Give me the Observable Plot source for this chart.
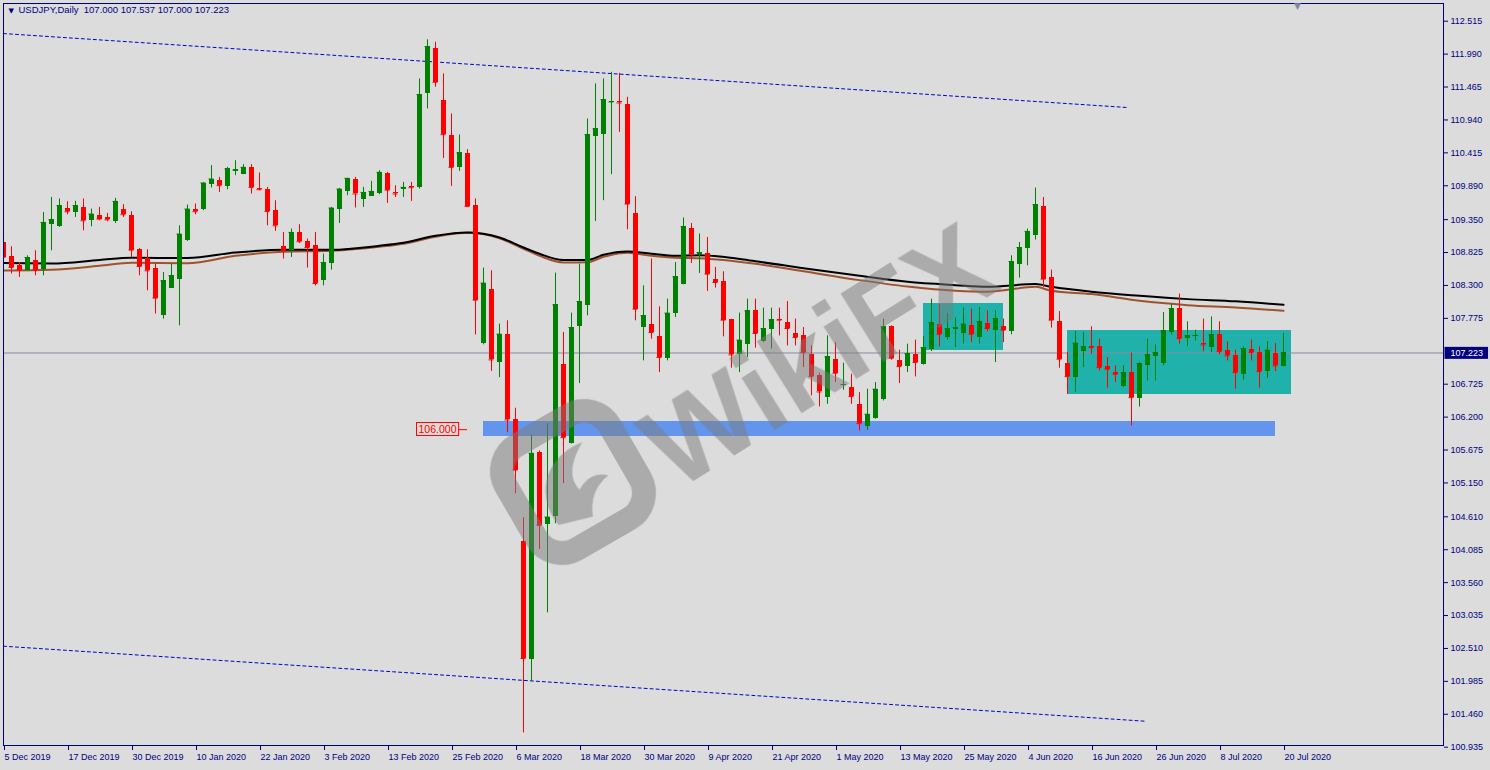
<!DOCTYPE html>
<html><head><meta charset="utf-8">
<script src="https://cdn.jsdelivr.net/npm/d3@7"></script>
<script src="https://cdn.jsdelivr.net/npm/@observablehq/plot@0.6"></script>
<style>
html,body{margin:0;padding:0;background:#dcdcdc;}
#wrap{position:relative;width:1490px;height:770px;overflow:hidden;}
#wm{position:absolute;left:0;top:0;pointer-events:none;}
</style></head><body><div id="wrap"></div>
<script>
// ---- data ----
const symbolTitle = "USDJPY,Daily";
const open = [108.99,108.757,108.614,108.545,108.694,108.561,109.268,109.236,109.535,109.465,
109.545,109.332,109.412,109.385,109.316,109.519,109.412,108.869,108.737,108.577,
107.816,108.258,108.401,109.024,109.508,109.508,109.918,109.971,109.875,110.115,
110.067,110.184,109.854,109.838,109.492,108.917,108.864,109.146,108.997,108.933,
108.374,108.65,109.519,109.8,109.998,109.679,109.72,109.768,110.088,109.779,
109.838,109.875,109.864,111.355,112.074,111.248,110.689,110.184,110.397,109.572,
107.38,108.231,107.07,107.512,106.155,104.212,102.334,105.633,104.49,104.611,
107.033,105.777,107.645,107.975,110.673,110.705,111.211,111.227,111.185,109.449,
107.629,107.672,107.48,107.14,107.852,108.322,109.209,108.8,108.81,108.39,
108.358,107.752,107.193,107.352,107.895,107.405,107.592,107.763,107.709,107.539,
107.507,107.193,106.857,106.511,107.124,106.698,106.67,106.405,106.043,106.182,
106.479,107.64,107.097,107.006,107.193,107.033,107.284,107.672,107.469,107.592,
107.533,107.656,107.469,107.699,107.576,107.64,107.565,108.641,108.89,109.104,
109.556,108.427,107.725,107.054,106.83,107.245,107.325,107.325,107.001,106.91,
106.687,106.91,106.495,107.017,107.161,107.054,107.549,107.932,107.459,107.485,
107.373,107.309,107.512,107.257,107.177,106.873,107.273,107.229,106.926,107.214,
107.0];
const high = [109.02,108.917,108.667,108.773,108.853,109.465,109.704,109.679,109.636,109.641,
109.679,109.519,109.545,109.449,109.689,109.588,109.476,108.89,108.869,108.641,
108.507,108.641,109.252,109.583,109.599,109.94,110.211,110.024,110.184,110.29,
110.227,110.227,110.094,109.864,109.652,109.146,109.2,109.268,109.04,109.146,
108.8,109.545,109.848,110.008,110.024,109.864,109.96,110.131,110.104,109.891,
109.944,109.944,111.595,112.218,112.179,111.675,111.036,110.701,110.466,109.679,
108.577,108.534,107.683,107.736,106.342,104.595,105.91,105.66,106.096,108.497,
107.549,107.859,108.641,110.956,111.515,111.595,111.7,111.684,111.301,109.716,
108.294,108.721,107.959,108.082,108.666,109.375,109.289,109.12,109.066,108.587,
108.518,107.76,107.859,108.082,108.082,107.938,107.938,107.938,108.044,107.763,
107.629,107.336,106.9,107.496,107.389,107.06,106.884,106.591,106.645,106.751,
107.763,107.656,107.268,107.364,107.428,107.485,108.082,107.991,107.852,107.779,
107.938,107.922,107.948,107.895,107.895,107.763,108.773,108.986,109.2,109.854,
109.704,108.545,107.884,107.229,107.565,107.549,107.64,107.443,107.15,107.017,
107.017,107.22,107.07,107.443,107.352,107.868,108.002,108.162,107.72,107.587,
107.763,107.799,107.72,107.401,107.268,107.32,107.428,107.32,107.405,107.373,
107.537];
const low = [108.70,108.481,108.427,108.534,108.454,108.454,108.853,109.225,109.428,109.385,
109.173,109.236,109.332,109.316,109.289,109.385,108.746,108.454,108.215,107.843,
107.763,108.258,107.656,109.002,109.428,109.492,109.854,109.784,109.827,110.051,
110.067,109.759,109.811,109.252,109.162,108.721,108.746,108.97,108.577,108.294,
108.294,108.545,109.289,109.732,109.535,109.545,109.72,109.747,109.608,109.704,
109.704,109.641,109.838,111.116,111.461,110.327,109.88,110.12,109.561,107.512,
107.353,106.929,106.83,105.952,104.978,101.162,101.987,104.09,103.078,104.499,
105.138,105.77,106.735,107.816,109.321,109.652,110.067,110.742,109.189,107.736,
107.097,107.443,106.91,107.097,107.788,108.31,108.65,108.491,108.204,108.258,
107.48,106.98,106.91,107.15,107.3,107.389,107.284,107.496,107.336,107.336,
106.99,106.538,106.362,106.405,106.751,106.629,106.405,105.979,105.99,106.166,
106.458,107.108,106.735,106.91,106.841,107.03,107.245,107.32,107.428,107.309,
107.364,107.389,107.364,107.565,107.07,107.389,107.512,108.417,108.614,109.024,
108.268,107.619,106.98,106.565,106.591,106.99,107.204,106.937,106.661,106.751,
106.67,106.059,106.362,106.778,106.778,107.017,107.512,107.364,107.325,107.416,
107.245,107.229,107.193,107.097,106.645,106.789,107.097,106.661,106.821,106.926,
107.0];
const close = [108.75,108.587,108.545,108.746,108.545,109.305,109.348,109.572,109.476,109.572,
109.332,109.439,109.359,109.348,109.641,109.428,108.864,108.603,108.534,108.098,
108.374,108.454,109.12,109.519,109.476,109.934,109.998,109.891,110.158,110.142,
110.184,109.864,109.827,109.481,109.252,108.864,109.146,108.997,108.906,108.331,
108.666,109.535,109.838,110.008,109.759,109.784,109.8,110.104,109.822,109.759,
109.864,109.859,111.344,112.11,111.541,110.705,110.184,110.413,109.561,108.066,
108.338,107.113,107.523,106.155,105.356,102.35,105.623,104.474,104.606,107.991,
105.872,107.629,108.044,110.705,110.796,111.264,111.227,111.211,109.599,107.922,
107.816,107.549,107.15,107.859,108.438,109.236,108.8,108.826,108.481,108.347,
107.747,107.193,107.428,107.895,107.533,107.613,107.752,107.747,107.613,107.469,
107.229,106.846,106.602,107.161,106.9,106.719,106.527,106.096,106.246,106.645,
107.64,107.14,107.006,107.214,107.07,107.309,107.709,107.523,107.613,107.629,
107.683,107.523,107.72,107.613,107.772,107.587,108.682,108.906,109.162,109.588,
108.401,107.747,107.124,106.846,107.38,107.32,107.309,106.99,106.964,106.884,
106.91,106.511,107.054,107.193,107.229,107.576,107.932,107.453,107.496,107.501,
107.352,107.512,107.245,107.177,106.91,107.293,107.229,106.926,107.268,107.017,
107.223];

// moving averages, sampled at bar indices
const maIndex = [0,6,12,16,23,29,35,41,47,50,54,58,62,65,67,70,73,75,78,81,84,87,94,100,107,113,119,123,129,131,136,142,148,154,160];
const maBlack = [108.657,108.651,108.705,108.742,108.737,108.826,108.869,108.869,108.933,108.981,109.093,109.146,109.066,108.906,108.805,108.705,108.705,108.789,108.842,108.805,108.773,108.781,108.686,108.574,108.454,108.358,108.305,108.278,108.322,108.278,108.199,108.135,108.082,108.047,107.991];
const maBrown = [108.539,108.550,108.614,108.662,108.654,108.773,108.837,108.853,108.917,108.965,109.077,109.141,109.053,108.885,108.773,108.666,108.670,108.757,108.821,108.773,108.742,108.734,108.646,108.526,108.385,108.283,108.215,108.199,108.278,108.215,108.162,108.055,107.986,107.948,107.895];

// trend channel lines (bar index, price)
const upperLineIndex = [0, 140.6];
const upperLinePrice = [112.318, 111.137];
const lowerLineIndex = [0, 142.75];
const lowerLinePrice = [102.546, 101.349];

// zones
const zoneKind  = ["support", "range", "range"];
const zoneStart = [60, 115, 133];
const zoneEnd   = [159, 125, 161];
const zoneHigh  = [106.123, 108.007, 107.576];
const zoneLow   = [105.884, 107.257, 106.565];

const levelPrice = 106.000;
const levelLabelIndex = 58;
const shiftIndex = 161.75;

// axes
const dateTickIndex = [0,8,16,24,32,40,48,56,64,72,80,88,96,104,112,120,128,136,144,152,160];
const dateTickLabels = ["5 Dec 2019","17 Dec 2019","30 Dec 2019","10 Jan 2020","22 Jan 2020","3 Feb 2020","13 Feb 2020","25 Feb 2020","6 Mar 2020","18 Mar 2020","30 Mar 2020","9 Apr 2020","21 Apr 2020","1 May 2020","13 May 2020","25 May 2020","4 Jun 2020","16 Jun 2020","26 Jun 2020","8 Jul 2020","20 Jul 2020"];
const priceTicks = [112.515,111.990,111.465,110.940,110.415,109.890,109.350,108.825,108.300,107.775,106.725,106.200,105.675,105.150,104.610,104.085,103.560,103.035,102.510,101.985,101.460,100.935];

// ---- build ----
const n = open.length;
const bars = d3.range(n).map(i => ({i, o: open[i], h: high[i], l: low[i], c: close[i]}));
const up = bars.filter(d => d.c >= d.o);
const dn = bars.filter(d => d.c < d.o);
const half = 0.3125;
const GREEN = "#008000", RED = "#ff0000", NAVY = "#000080";
const blackLine = maIndex.map((i, k) => ({i, v: maBlack[k]}));
const brownLine = maIndex.map((i, k) => ({i, v: maBrown[k]}));
const upperLine = upperLineIndex.map((i, k) => ({i, v: upperLinePrice[k]}));
const lowerLine = lowerLineIndex.map((i, k) => ({i, v: lowerLinePrice[k]}));
const zones = zoneKind.map((k, j) => ({k, x1: zoneStart[j], x2: zoneEnd[j], y1: zoneLow[j], y2: zoneHigh[j]}));
const last = bars[n - 1];
const labelOf = new Map(dateTickIndex.map((t, k) => [t, dateTickLabels[k]]));
const header = `${symbolTitle}\u00a0\u00a0${last.o.toFixed(3)} ${last.h.toFixed(3)} ${last.l.toFixed(3)} ${last.c.toFixed(3)}`;

function candleMarks(data, color) {
  return [
    Plot.ruleX(data, {x: "i", y1: "l", y2: "h", stroke: color, strokeWidth: 1, clip: true}),
    Plot.rect(data, {x1: d => d.i - half, x2: d => d.i + half, y1: "o", y2: "c", fill: color, clip: true, shapeRendering: "crispEdges"}),
    Plot.ruleY(data, {y: "c", x1: d => d.i - half, x2: d => d.i + half, stroke: color, strokeWidth: 1, clip: true})
  ];
}

const chart = Plot.plot({
  width: 1490, height: 770,
  marginLeft: 3, marginRight: 47, marginTop: 3, marginBottom: 25,
  style: {background: "#dcdcdc", color: NAVY, fontFamily: "'Liberation Sans', Arial, sans-serif", fontSize: "9px"},
  x: {type: "linear", domain: [0, 180]},
  y: {type: "linear", domain: [100.935, 112.515], range: [746.7, 20.7]},
  marks: [
    Plot.rect(zones.filter(z => z.k === "support"), {x1: "x1", x2: "x2", y1: "y1", y2: "y2", fill: "#6495ed", shapeRendering: "crispEdges"}),
    Plot.rect(zones.filter(z => z.k === "range"), {x1: "x1", x2: "x2", y1: "y1", y2: "y2", fill: "#20b2aa", shapeRendering: "crispEdges"}),
    Plot.ruleY([last.c], {stroke: "#8a8aa4", strokeWidth: 1}),
    Plot.line(upperLine, {x: "i", y: "v", stroke: "#0000cc", strokeWidth: 1, strokeDasharray: "3,3", clip: true}),
    Plot.line(lowerLine, {x: "i", y: "v", stroke: "#0000cc", strokeWidth: 1, strokeDasharray: "3,3", clip: true}),
    Plot.line(brownLine, {x: "i", y: "v", stroke: "#a0522d", strokeWidth: 2, curve: "monotone-x", clip: true}),
    Plot.line(blackLine, {x: "i", y: "v", stroke: "#000000", strokeWidth: 2, curve: "monotone-x", clip: true}),
    ...candleMarks(up, GREEN),
    ...candleMarks(dn, RED),
    // 106.000 level label
    Plot.ruleY([levelPrice], {x1: levelLabelIndex - 1, x2: levelLabelIndex, stroke: RED, strokeWidth: 1}),
    Plot.text([levelPrice], {x: levelLabelIndex - 1, y: d => d, text: d => d.toFixed(3), textAnchor: "end", dx: -3, fill: RED, fontSize: 10.5}),
    Plot.frame({stroke: NAVY, strokeWidth: 1}),
    Plot.axisY({ticks: priceTicks, anchor: "right", tickSize: 4, tickPadding: 3, tickFormat: d => d.toFixed(3), fontSize: 9}),
    Plot.axisX({ticks: dateTickIndex, anchor: "bottom", tickSize: 5, tickPadding: 3, tickFormat: t => labelOf.get(t), textAnchor: "start", dx: 1, fontSize: 9}),
    // current price label on the axis
    Plot.text([last.c], {y: d => d, frameAnchor: "right", dx: 7, textAnchor: "start", text: d => d.toFixed(3), fill: "white", fontSize: 9}),
    // header
    Plot.text(["\u25bc"], {frameAnchor: "top-left", dx: 5, dy: 5, text: d => d, lineAnchor: "top", fontSize: 7, fill: NAVY, fontFamily: "DejaVu Sans"}),
    Plot.text([header], {frameAnchor: "top-left", dx: 15, dy: 3, text: d => d, lineAnchor: "top", textAnchor: "start", fontSize: 9.5, fill: NAVY}),
    // chart shift marker
    Plot.text(["\u25bc"], {x: shiftIndex, frameAnchor: "top", dy: -1, text: d => d, lineAnchor: "top", fontSize: 9, fill: "#7d8aa8", fontFamily: "DejaVu Sans"})
  ]
});

const wrap = document.getElementById("wrap");
wrap.appendChild(chart);

function boxBehind(str, fill, stroke, padX0, padX1, padY) {
  const t = [...chart.querySelectorAll("text")].find(e => e.textContent === str);
  if (!t) return;
  const b = t.getBBox();
  const r = document.createElementNS("http://www.w3.org/2000/svg", "rect");
  r.setAttribute("x", b.x - padX0);
  r.setAttribute("y", b.y - padY);
  r.setAttribute("width", b.width + padX0 + padX1);
  r.setAttribute("height", b.height + 2 * padY);
  r.setAttribute("fill", fill);
  r.setAttribute("stroke", stroke);
  r.setAttribute("stroke-width", 1);
  if (t.getAttribute("transform")) r.setAttribute("transform", t.getAttribute("transform"));
  t.parentNode.insertBefore(r, t);
}
boxBehind(last.c.toFixed(3), NAVY, "none", 6, 5, 1);
boxBehind(levelPrice.toFixed(3), "#dcdcdc", RED, 2, 2, 0.5);

// watermark overlay
const NS = "http://www.w3.org/2000/svg";
const wm = document.createElementNS(NS, "svg");
wm.setAttribute("id", "wm"); wm.setAttribute("width", 1490); wm.setAttribute("height", 770);
wm.innerHTML = `
<g opacity="0.5" fill="#7a7a7a" stroke="none">
  <text x="818" y="356" transform="rotate(-32 818 356)" text-anchor="middle" dominant-baseline="central"
        font-family="'Liberation Sans', Arial, sans-serif" font-weight="bold" font-size="116">WikiFX</text>
  <g transform="translate(573,482) rotate(-30)">
    <rect x="-60" y="-60" width="120" height="120" rx="30" fill="none" stroke="#7a7a7a" stroke-width="24"/>
    <path d="M-34 30 C-40 -10 -10 -36 28 -30 C8 -18 -2 -6 2 10 C14 2 26 4 34 12 C18 14 6 24 0 40 Z"/>
  </g>
</g>`;
wrap.appendChild(wm);
</script>
</body></html>
